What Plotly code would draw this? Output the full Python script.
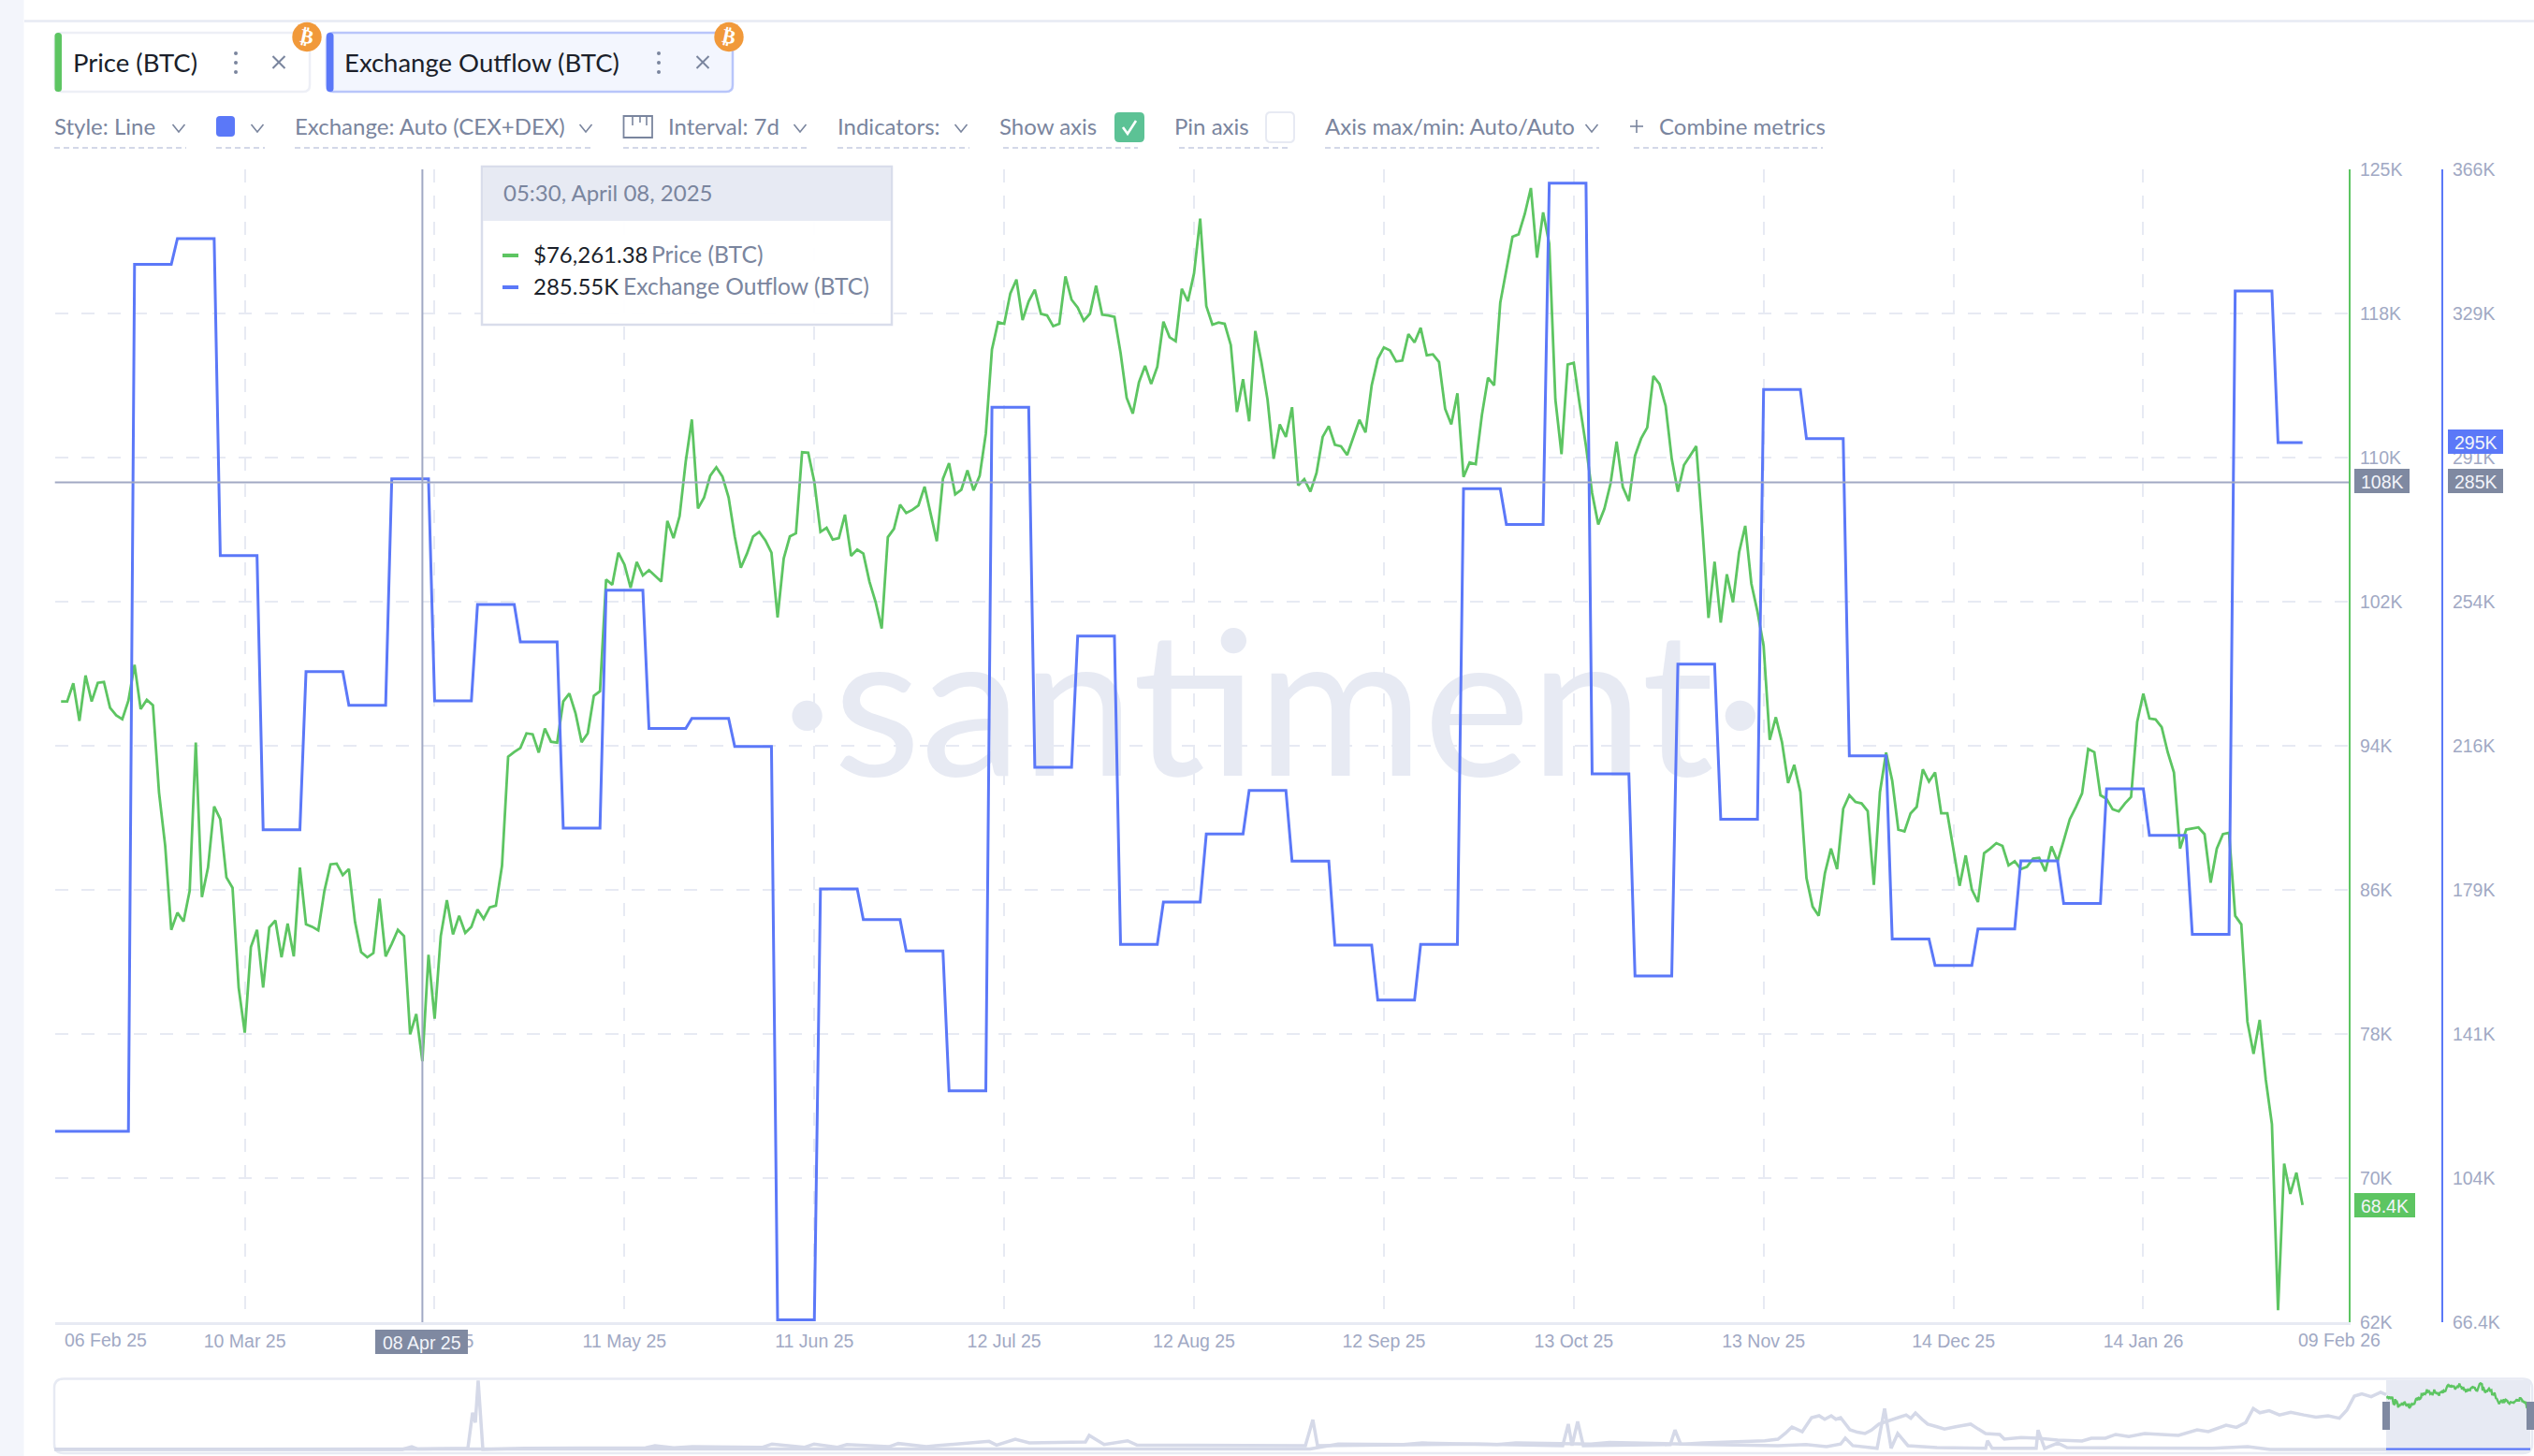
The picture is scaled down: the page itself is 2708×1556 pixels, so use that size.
import datetime as dt
import plotly.graph_objects as go

W, H = 2708, 1556

# ---------- data ----------
first_day = dt.datetime(2025, 2, 7)

# Daily BTC price in thousands of USD, starts on the second day of the window
price_btc_k = [
 95.92,95.92,96.91,94.86,97.34,95.92,96.94,96.99,95.58,95.17,94.95,95.97,97.93,95.51,96.01,95.72,90.94,88.05,83.44,84.38,
 83.90,85.57,93.67,85.23,86.85,90.18,89.49,86.31,85.74,80.29,77.82,82.51,83.44,80.29,83.58,83.95,81.94,83.78,81.99,86.85,
 83.75,83.61,83.41,85.57,87.02,87.06,86.43,86.77,83.87,82.22,81.94,82.17,85.15,81.99,82.68,83.44,83.10,77.73,78.84,76.26,
 82.08,78.59,83.10,85.06,83.19,84.21,83.27,83.61,84.55,84.04,84.67,84.76,86.94,92.90,93.16,93.38,94.18,94.13,93.13,94.44,
 93.72,93.67,95.92,96.36,95.29,93.70,94.18,96.23,96.48,
 102.59,102.30,104.05,103.40,102.13,103.54,102.81,103.10,102.81,102.47,105.79,104.85,106.05,109.03,111.33,106.47,107.07,108.26,108.72,108.21,
 107.07,104.94,103.23,104.00,104.94,105.19,104.73,104.05,100.51,103.74,104.94,105.11,109.54,109.51,107.92,105.19,105.41,104.77,104.85,106.13,
 103.88,104.22,104.00,102.47,101.36,99.91,104.90,105.36,106.68,106.22,106.39,106.64,107.66,106.22,104.68,108.09,108.94,107.24,107.49,108.55,
 107.46,108.26,110.56,115.16,
 116.65,116.56,118.22,118.98,116.77,117.79,118.42,117.11,117.02,116.43,116.56,119.15,117.88,117.45,116.73,117.11,118.64,117.06,117.02,116.94,
 114.98,112.51,111.65,113.36,114.26,113.27,114.21,116.68,115.83,115.61,118.47,117.79,119.32,122.31,117.53,116.51,116.63,116.56,115.40,111.74,
 113.53,111.23,116.17,114.47,112.42,109.18,111.06,110.38,112.00,107.73,108.07,
 107.39,108.41,110.38,110.97,109.95,109.87,109.39,110.38,111.31,110.63,113.19,114.64,115.27,115.10,114.50,114.55,116.00,115.54,116.34,114.84,
 114.89,114.47,111.91,111.06,112.76,108.19,108.98,108.89,111.57,113.61,113.19,117.71,119.58,121.32,121.45,122.56,123.98,120.18,122.65,120.94,
 112.42,109.44,114.33,114.43,112.08,109.87,107.31,105.60,106.45,107.82,110.12,107.65,106.88,109.35,110.29,110.89,113.70,113.27,112.08,109.18,
 107.39,108.84,109.35,109.87,105.43,100.49,103.56,100.23,102.87,101.34,104.07,105.52,102.36,100.83,98.96,
 93.82,95.06,93.70,91.47,92.46,90.97,86.27,84.71,84.21,86.52,87.88,86.76,90.06,90.80,90.43,90.35,89.93,85.90,90.97,93.13,
 91.59,88.92,88.82,89.81,90.16,92.21,91.54,92.04,89.81,89.81,87.75,85.85,87.51,85.65,84.96,87.63,87.88,88.18,88.03,86.96,
 87.19,86.76,86.89,87.33,87.38,86.64,88.00,87.19,88.32,89.49,90.16,90.90,93.33,93.15,90.80,90.60,90.03,89.91,90.35,90.70,
 94.81,96.35,94.99,94.94,94.52,93.13,92.04,87.88,88.92,88.99,89.04,88.67,86.02,87.88,88.67,88.75,84.21,83.74,78.42,76.66,
 78.52,75.25,72.82,62.66,70.67,69.01,70.17,68.40,
]

# Exchange outflow in thousands of BTC: one value per weekly bucket
outflow_first_day = [0,13,20,27,34,41,48,55,62,69,76,83,90,97,104,111,118,125,132,139,146,153,160,167,174,181,188,195,202,209,
                     216,223,230,237,244,251,258,265,272,279,286,293,300,307,314,321,328,335,342,349,356,363]
outflow_btc_k = [116.0,341.3,348.0,265.6,194.4,235.5,226.7,285.55,227.9,252.9,243.2,194.8,256.6,220.7,223.3,216.0,67.0,179.0,171.0,162.9,
                 126.5,304.2,210.6,244.7,164.6,175.6,193.3,204.6,186.2,164.4,150.1,164.6,283.0,273.7,362.4,208.9,156.4,237.4,197.1,308.8,
                 296.0,213.6,166.0,159.1,168.6,186.3,175.2,205.0,192.9,167.2,334.4,295.0]
last_day_index = 367

x_tick_labels = ["10 Mar 25","10 Apr 25","11 May 25","11 Jun 25","12 Jul 25","12 Aug 25","12 Sep 25","13 Oct 25","13 Nov 25","14 Dec 25","14 Jan 26"]
price_ticks = [62,69.875,77.75,85.625,93.5,101.375,109.25,117.125,125]
price_tick_labels = ["62K","70K","78K","86K","94K","102K","110K","118K","125K"]
outflow_ticks = [66.4,103.85,141.3,178.75,216.2,253.65,291.1,328.55,366]
outflow_tick_labels = ["66.4K","104K","141K","179K","216K","254K","291K","329K","366K"]

# Navigator overview (arbitrary time units, thousands)
mini_price_t = [58,1000,1400,1430,1500,1520,1600,1620,1700,1720,1800,1820,1886,1900,1908,1915,1926,1936,1944,1950,1957,1962,1967,1977,1985,1993,2000,2008,2037,2042,2047,2054,2060,2070,2078,2090,2106,2114,2122,2137,2142,2160,2178,2199,2225,2235,2250,2261,2275,2292,2310,2328,2348,2360,2379,2390,2400,2408,2415,2425,2436,2448,2462,2475,2488,2500,2508,2516,2524,2534,2544,2550]
mini_price_v = [0.5,0.5,1,10,9,12,9,12,10,13,10,12,16,19,30,41.7,33,59,62.5,56,62.5,56,59,36.5,32,29.5,36,47,64,58,67.7,56,47,42,38,42,47,38,29.5,27.8,19,22,20.8,17.4,15.6,20.8,20.8,27.8,24,29.5,27,26,36.5,33,45,41,50,76,68,72,64,69,64,60,62.5,58,73,99,103,98,106,102]
mini_outflow_t = [58,430,440,446,500,505,508,511,516,560,690,700,720,740,815,825,860,870,895,905,950,960,990,1000,1057,1065,1085,1100,1160,1164,1180,1205,1215,1395,1403,1408,1580,1670,1676,1680,1686,1692,1785,1790,1796,1900,1930,1952,1967,1972,1980,2006,2014,2021,2028,2039,2070,2122,2124,2129,2176,2178,2185,2199,2209,2364,2402,2426,2550]
mini_outflow_v = [0,0,5,1,2,68,50,128,0,2,3,7,3,5,4,10,4,10,4,9,5,11,5,7,15,8,19,12,14,26,9,16,8,7,55,7,10,7,47,7,52,7,9,36,10,7,9,5,10,21,7,2,76,2,29.5,7,3.5,2,16,2,2,36,2,12,3.5,2,5,0,0]

# ---------- colours and fonts ----------
GREEN, BLUE = "#5DC562", "#5B78F8"
GRID, WATERLOO, MUTED, DARK = "#E7EAF3", "#A1A9C4", "#7A859E", "#1B1F2A"
TAG = "#7F89A1"
AXIS_FONT, UI_FONT = "Liberation Sans", "Lato"

# ---------- geometry helpers ----------
def px(x): return x / W
def py(y): return 1 - y / H
def day(i): return first_day + dt.timedelta(days=i)

shapes, notes = [], []

def rect(x0, y0, x1, y1, fill=None, line=None, lw=2, layer="above"):
    shapes.append(dict(type="rect", xref="paper", yref="paper", x0=px(x0), y0=py(y0), x1=px(x1), y1=py(y1),
                       fillcolor=fill or "rgba(0,0,0,0)", line=dict(color=line or "rgba(0,0,0,0)", width=lw if line else 0), layer=layer))

def path(points, color, lw=2, fill=None, closed=False, dash=None, layer="above"):
    d = "M " + " L ".join(f"{px(a):.5f} {py(b):.5f}" for a, b in points) + (" Z" if closed else "")
    shapes.append(dict(type="path", xref="paper", yref="paper", path=d, fillcolor=fill or "rgba(0,0,0,0)",
                       line=dict(color=color, width=lw, dash=dash or "solid"), layer=layer))

def rrect(x0, y0, x1, y1, r, fill=None, line=None, lw=2, layer="above"):
    f = lambda a, b: f"{px(a):.5f} {py(b):.5f}"
    d = (f"M {f(x0+r,y0)} L {f(x1-r,y0)} Q {f(x1,y0)} {f(x1,y0+r)} L {f(x1,y1-r)} Q {f(x1,y1)} {f(x1-r,y1)} "
         f"L {f(x0+r,y1)} Q {f(x0,y1)} {f(x0,y1-r)} L {f(x0,y0+r)} Q {f(x0,y0)} {f(x0+r,y0)} Z")
    shapes.append(dict(type="path", xref="paper", yref="paper", path=d, fillcolor=fill or "rgba(0,0,0,0)",
                       line=dict(color=line or "rgba(0,0,0,0)", width=lw if line else 0), layer=layer))

def circle(cx, cy, r, fill):
    shapes.append(dict(type="circle", xref="paper", yref="paper", x0=px(cx-r), x1=px(cx+r), y0=py(cy-r), y1=py(cy+r),
                       fillcolor=fill, line=dict(width=0), layer="above"))

def text(x, y, s, size, color, anchor="left", font=UI_FONT, angle=0):
    notes.append(dict(xref="paper", yref="paper", x=px(x), y=py(y), text=s, showarrow=False, xanchor=anchor, yanchor="middle",
                      font=dict(size=size, color=color, family=font), borderpad=0, textangle=angle))

def chevron(cx, cy=137):
    path([(cx-6.5, cy-4), (cx, cy+4), (cx+6.5, cy-4)], MUTED, 1.6)

def underline(x0, x1, y=158):
    path([(x0, y), (x1, y)], "#D3D8E8", 2, dash="6px,4px")

# page chrome
rect(0, 0, 25.5, H, fill="#F3F5FB")
path([(26, 22.5), (W, 22.5)], GRID, 2.5)

# metric chips
def chip(x0, x1, label, bar, fill, border, dots_x, close_x, badge_x):
    rrect(x0, 35, x1, 98, 7, fill=fill, line=border, lw=2.5)
    rrect(x0, 35, x0+7.5, 98, 3.5, fill=bar)
    text(x0+18, 66.5, label, 27.5, DARK)
    for dy in (57, 67, 77):
        circle(dots_x, dy, 2, MUTED)
    path([(close_x-6.5, 60), (close_x+6.5, 73)], MUTED, 2)
    path([(close_x+6.5, 60), (close_x-6.5, 73)], MUTED, 2)
    circle(badge_x, 39.5, 15.7, "#F1993A")
    text(badge_x, 39.5, "<b>₿</b>", 21, "#FFFFFF", anchor="center", font="DejaVu Sans", angle=12)

chip(58.5, 331, "Price (BTC)", GREEN, "#FFFFFF", "#EDEFF6", 252, 298, 328)
chip(349, 783, "Exchange Outflow (BTC)", BLUE, "#F3F6FE", "#B8C5FA", 704, 751, 779)

# settings row
toolbar = [(57, "Style: Line"), (314, "Exchange: Auto (CEX+DEX)"), (713, "Interval: 7d"), (894, "Indicators:"),
           (1067, "Show axis"), (1254, "Pin axis"), (1415, "Axis max/min: Auto/Auto"), (1772, "Combine metrics")]
for tx, label in toolbar:
    text(tx, 134.5, label, 24, MUTED)
for cx in (191, 275, 626, 855, 1027, 1701):
    chevron(cx)
for a, b in ((58, 199), (231, 283), (315, 634), (666, 863), (895, 1036), (1072, 1216), (1260, 1378), (1416, 1709), (1746, 1948)):
    underline(a, b)
rrect(231, 124, 251, 146, 4, fill=BLUE)
rect(666.5, 124, 697, 147, line=MUTED, lw=1.8)
path([(676, 124), (676, 134)], MUTED, 1.6)
path([(684, 124), (684, 131)], MUTED, 1.6)
path([(691, 124), (691, 134)], MUTED, 1.6)
rrect(1191, 120, 1223, 152, 5, fill="#5CC295")
path([(1200, 136), (1205, 143), (1214, 129)], "#FFFFFF", 2.6)
rrect(1353, 120, 1383, 152, 5, fill="#FFFFFF", line=GRID)
path([(1742, 135), (1756, 135)], MUTED, 1.6)
path([(1749, 128), (1749, 142)], MUTED, 1.6)

# crosshair
shapes.append(dict(type="line", xref="x", yref="paper", x0=day(60), x1=day(60), y0=py(181), y1=py(1413), line=dict(color=WATERLOO, width=2), layer="above"))
shapes.append(dict(type="line", xref="paper", yref="y", x0=px(58.7), x1=px(2510), y0=107.9, y1=107.9, line=dict(color=WATERLOO, width=2), layer="above"))

# tooltip
rect(515, 178, 953, 347, fill="rgba(255,255,255,0.94)", line="#D9DDEB", lw=2.5)
rect(516, 179, 952, 236, fill=GRID)
text(537, 205.5, "05:30, April 08, 2025", 24, MUTED)
path([(537, 273), (554, 273)], GREEN, 4)
path([(537, 307), (554, 307)], BLUE, 4)
text(569, 271.5, "$76,261.38", 24, DARK)
text(695, 271.5, "Price (BTC)", 24.7, MUTED)
text(569, 305.5, "285.55K", 24, DARK)
text(665, 305.5, "Exchange Outflow (BTC)", 24.6, MUTED)

# value tags on the axes
def tag(x0, x1, y0, y1, label, fill):
    rect(x0, y0, x1, y1, fill=fill)
    text((x0+x1)/2, (y0+y1)/2+0.5, label, 19.5, "#F2F4FA", anchor="center", font=AXIS_FONT)

tag(2516, 2575, 501, 527, "108K", TAG)
tag(2616, 2675, 501, 527, "285K", TAG)
tag(2616, 2675, 459, 485, "295K", BLUE)
tag(2516, 2581, 1275, 1301, "68.4K", GREEN)
tag(401, 500, 1421, 1447, "08 Apr 25", TAG)
text(113, 1432, "06 Feb 25", 19.5, WATERLOO, anchor="center", font=AXIS_FONT)
text(2500, 1432, "09 Feb 26", 19.5, WATERLOO, anchor="center", font=AXIS_FONT)

# navigator frame
rrect(58, 1473.5, 2706, 1553, 10, line=GRID, lw=2.5, layer="below")
rect(2550, 1475, 2704, 1552, fill=GRID, layer="below")
rect(2546, 1498, 2554, 1528, fill=TAG)
rect(2700, 1498, 2708, 1528, fill=TAG)

# ---------- traces ----------
days = [day(i) for i in range(last_day_index + 1)]

outflow_x, outflow_y = [], []
for n, start in enumerate(outflow_first_day):
    end = outflow_first_day[n+1] - 1 if n + 1 < len(outflow_first_day) else last_day_index
    outflow_x += [days[start], days[end]]
    outflow_y += [outflow_btc_k[n], outflow_btc_k[n]]

fig = go.Figure()
fig.add_trace(go.Scatter(x=[day(199)], y=[94.6], mode="text", text=["·santiment·"], textposition="middle center",
                         textfont=dict(size=216, family="Lato", color=GRID), hoverinfo="skip", showlegend=False))
fig.add_trace(go.Scatter(x=days[1:], y=price_btc_k, mode="lines", name="Price (BTC)", line=dict(color=GREEN, width=2.8), showlegend=False, hoverinfo="skip"))
fig.add_trace(go.Scatter(x=outflow_x, y=outflow_y, mode="lines", name="Exchange Outflow (BTC)", yaxis="y2", line=dict(color=BLUE, width=3), showlegend=False, hoverinfo="skip"))

# navigator: history in grey, then the selected window in colour
GREY_LINE = "#D5D9E8"
fig.add_trace(go.Scatter(x=mini_outflow_t, y=mini_outflow_v, mode="lines", xaxis="x2", yaxis="y3", line=dict(color=GREY_LINE, width=3.5), showlegend=False, hoverinfo="skip"))
fig.add_trace(go.Scatter(x=mini_price_t, y=mini_price_v, mode="lines", xaxis="x2", yaxis="y3", line=dict(color=GREY_LINE, width=3.5), showlegend=False, hoverinfo="skip"))
to_mini = lambda i: 2550 + i / last_day_index * 154
fig.add_trace(go.Scatter(x=[to_mini(i) for i in range(1, last_day_index + 1)], y=price_btc_k, mode="lines", xaxis="x2", yaxis="y3", line=dict(color=GREEN, width=2.4), showlegend=False, hoverinfo="skip"))
fig.add_trace(go.Scatter(x=[to_mini(i) for i in range(last_day_index + 1)], y=[0.6] * (last_day_index + 1), mode="lines", xaxis="x2", yaxis="y3", line=dict(color=BLUE, width=2.4), showlegend=False, hoverinfo="skip"))

tick_dates = [dt.datetime.strptime(s, "%d %b %y") for s in x_tick_labels]

fig.update_layout(
    width=W, height=H, margin=dict(l=0, r=0, t=0, b=0, pad=0, autoexpand=False), autosize=False,
    paper_bgcolor="#FFFFFF", plot_bgcolor="#FFFFFF", hovermode=False, showlegend=False,
    shapes=shapes, annotations=notes,
    font=dict(family=AXIS_FONT, size=19.5, color=WATERLOO),
    xaxis=dict(domain=[px(58.7), px(2510)], range=[first_day, day(374.54)], anchor="y", tickmode="array", automargin=False,
               tickvals=[first_day] + tick_dates, ticktext=[""] + x_tick_labels, ticks="outside", ticklen=1,
               tickcolor="rgba(0,0,0,0)", showgrid=True, gridcolor=GRID, gridwidth=2, griddash="14px,14px",
               showline=True, linecolor=GRID, linewidth=2.5, zeroline=False,
               tickfont=dict(size=19.5, color=WATERLOO, family=AXIS_FONT)),
    yaxis=dict(domain=[py(1413), py(181)], range=[62, 125], side="right", anchor="x", tickmode="array", automargin=False,
               tickvals=price_ticks, ticktext=price_tick_labels, ticks="outside", ticklen=6, tickcolor="rgba(0,0,0,0)",
               showgrid=True, gridcolor=GRID, gridwidth=2, griddash="14px,14px", showline=True, linecolor=GREEN, linewidth=2,
               zeroline=False, tickfont=dict(size=19.5, color=WATERLOO, family=AXIS_FONT)),
    yaxis2=dict(domain=[py(1413), py(181)], range=[66.4, 366], side="right", overlaying="y", anchor="free", position=px(2610), automargin=False,
                tickmode="array", tickvals=outflow_ticks, ticktext=outflow_tick_labels, ticks="outside", ticklen=6,
                tickcolor="rgba(0,0,0,0)", showgrid=False, showline=True, linecolor=BLUE, linewidth=2, zeroline=False,
                tickfont=dict(size=19.5, color=WATERLOO, family=AXIS_FONT)),
    xaxis2=dict(domain=[px(58), 1], range=[58, 2708], anchor="y3", visible=False),
    yaxis3=dict(domain=[py(1553), py(1473)], range=[-7, 132], anchor="x2", visible=False),
)

fig.write_html("out.html", config={"displayModeBar": False, "staticPlot": True},
               post_script="document.body.style.margin='0';document.documentElement.style.overflow='hidden';")
